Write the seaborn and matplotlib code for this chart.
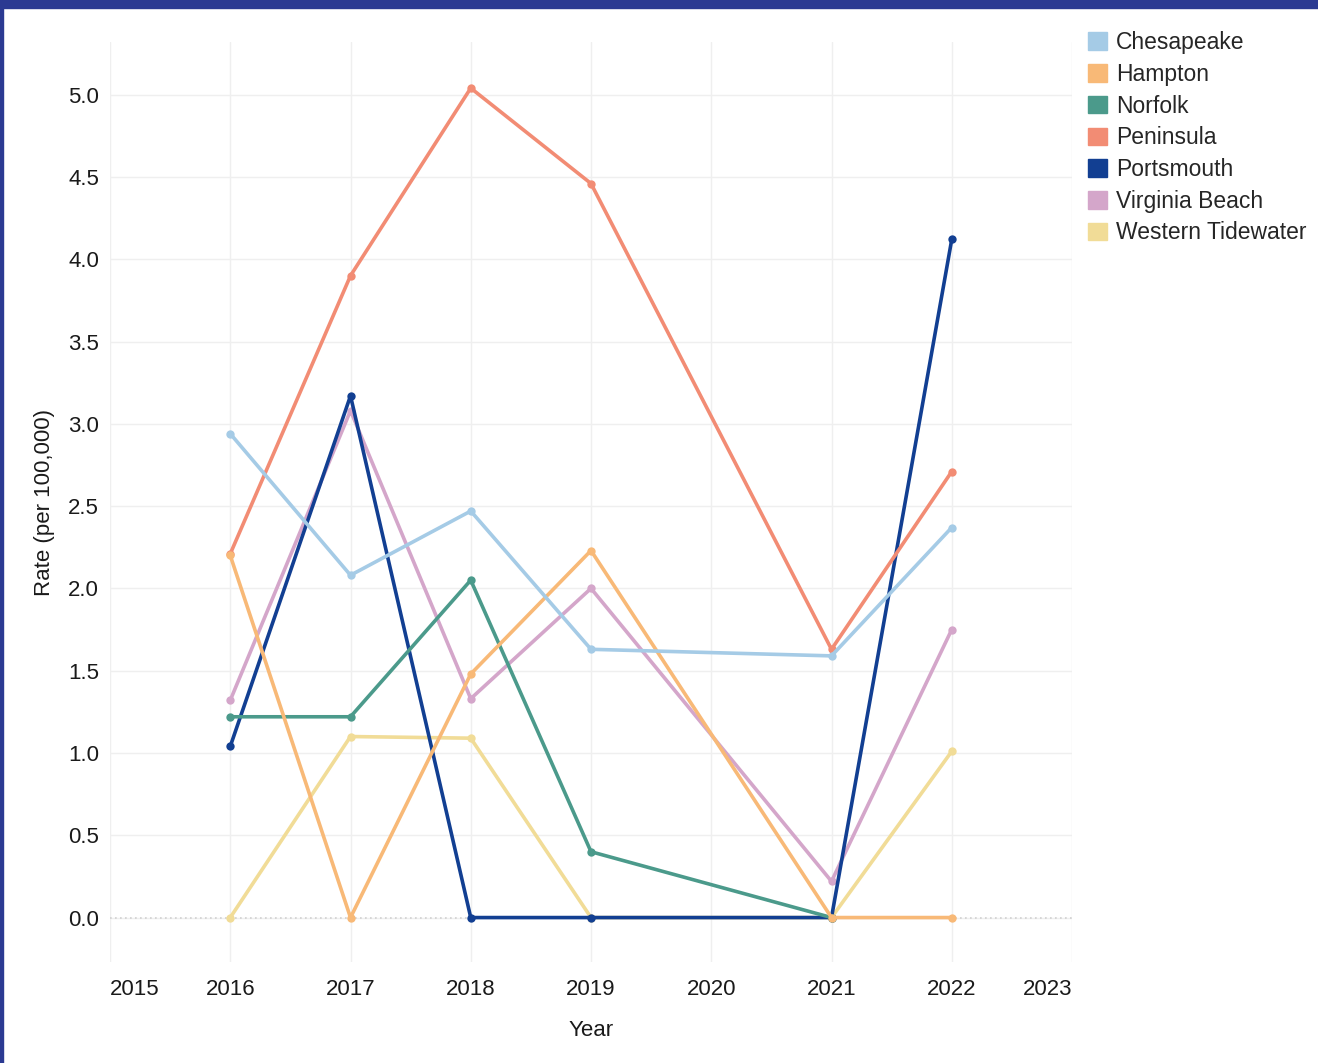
import matplotlib
matplotlib.use("Agg")
import matplotlib.pyplot as plt
import matplotlib.patches as mpatches
import seaborn as sns
import pandas as pd
import numpy as np

# Data
years = [2016, 2017, 2018, 2019, 2021, 2022]
chesapeake = [2.94, 2.08, 2.47, 1.63, 1.59, 2.37]
hampton = [2.20, 0.0, 1.48, 2.23, 0.0, 0.0]
norfolk = [1.22, 1.22, 2.05, 0.40, 0.0, np.nan]
peninsula = [2.21, 3.90, 5.04, 4.46, 1.63, 2.71]
portsmouth = [1.04, 3.17, 0.0, 0.0, 0.0, 4.12]
virginia_beach = [1.32, 3.08, 1.33, 2.00, 0.22, 1.75]
western_tidewater = [0.0, 1.10, 1.09, 0.0, 0.0, 1.01]

regions = ["Chesapeake", "Hampton", "Norfolk", "Peninsula", "Portsmouth",
           "Virginia Beach", "Western Tidewater"]
series = [chesapeake, hampton, norfolk, peninsula, portsmouth,
          virginia_beach, western_tidewater]
colors = ["#a5cbe6", "#f8b977", "#4b9a8b", "#f28c74", "#123f92",
          "#d4a6ca", "#f1dc97"]
palette = dict(zip(regions, colors))

rows = []
for name, vals in zip(regions, series):
    for y, v in zip(years, vals):
        rows.append({"Year": y, "Rate": v, "Region": name})
df = pd.DataFrame(rows).dropna()

sns.set_style("white")
plt.rcParams["font.family"] = ["Liberation Sans", "DejaVu Sans"]

fig = plt.figure(figsize=(13.18, 10.63), dpi=100)
ax = fig.add_axes([110 / 1318, 101 / 1063, (1072 - 110) / 1318, (962 - 42) / 1063])

ax.axhline(0, color="#d0d0d0", lw=1.2, ls=(0, (1, 2)), zorder=1)

# first region in the legend is drawn last (on top)
sns.lineplot(data=df, x="Year", y="Rate", hue="Region", palette=palette,
             hue_order=regions[::-1], marker="o", markersize=6,
             markeredgewidth=0, linewidth=2.6, ax=ax, legend=False, zorder=3)

ax.set_xlim(2015, 2023)
ax.set_ylim(-0.27, 5.32)
ax.set_xticks(range(2015, 2024))
ax.set_yticks(np.arange(0, 5.01, 0.5))
ax.set_yticklabels([f"{v:.1f}" for v in np.arange(0, 5.01, 0.5)])
ax.grid(True, color="#efefef", lw=1)
for s in ax.spines.values():
    s.set_visible(False)
ax.tick_params(axis="both", length=0, labelsize=16, colors="#1a1a1a")
ax.tick_params(axis="x", pad=12)
ax.tick_params(axis="y", pad=8)
xl = ax.get_xticklabels()
xl[0].set_horizontalalignment("left")
xl[-1].set_horizontalalignment("right")
ax.set_xlabel("Year", fontsize=16, labelpad=15, color="#1a1a1a")
ax.set_ylabel("Rate (per 100,000)", fontsize=16, labelpad=9, color="#1a1a1a")

handles = [mpatches.Patch(color=c, label=r) for r, c in zip(regions, colors)]
fig.legend(handles=handles, loc="upper left",
           bbox_to_anchor=(1079 / 1318, 1 - 22 / 1063), frameon=False,
           fontsize=16.5, handlelength=0.8, handleheight=0.8,
           handletextpad=0.4, labelspacing=0.38, borderaxespad=0)

# dark blue frame on top and left edges
fig.patches.append(mpatches.Rectangle((0, 1 - 8 / 1063), 1, 8 / 1063,
                                      transform=fig.transFigure,
                                      color="#2b3a92", zorder=10))
fig.patches.append(mpatches.Rectangle((0, 0), 3 / 1318, 1,
                                      transform=fig.transFigure,
                                      color="#2b3a92", zorder=10))

fig.savefig("out.png", dpi=100)
